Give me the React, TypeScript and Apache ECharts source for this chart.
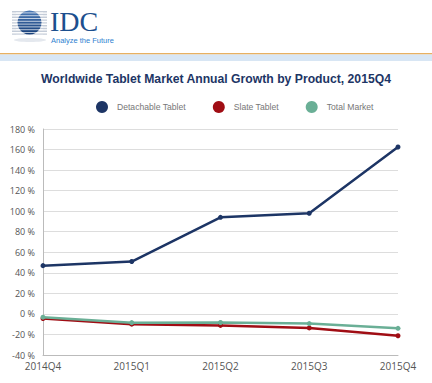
import React, { useEffect, useRef } from "react";
import * as echarts from "echarts";

const categories = ["2014Q4", "2015Q1", "2015Q2", "2015Q3", "2015Q4"];
const detachable = [47, 51, 94, 98, 162.5];
const slate = [-4.5, -10, -11.2, -13.6, -21.3];
const total = [-3.2, -8.5, -8.4, -9.4, -14];
const seriesNames = ["Detachable Tablet", "Slate Tablet", "Total Market"];
const seriesColors = ["#1d3565", "#a00d14", "#6aaf96"];

export default function App() {
  const ref = useRef<HTMLDivElement>(null);
  useEffect(() => {
    if (!ref.current) return;
    const chart = echarts.init(ref.current, undefined, { renderer: "svg" });
    const stripes: any[] = [];
    for (let i = 0; i < 9; i++) {
      stripes.push({
        type: "rect",
        shape: { x: 12, y: 11 + i * 2.8, width: 35, height: 1.4 },
        style: { fill: "#c4ccd8" },
      });
    }
    const globeLines: any[] = [];
    for (let i = 0; i < 9; i++) {
      globeLines.push({
        type: "rect",
        shape: { x: 16, y: 12.4 + i * 2.8, width: 27, height: 1.0 },
        style: { fill: "#ffffff", opacity: 0.7 },
      });
    }
    const data = [detachable, slate, total];
    chart.setOption({
      animation: false,
      backgroundColor: "#ffffff",
      title: {
        text: "Worldwide Tablet Market Annual Growth by Product, 2015Q4",
        left: "center",
        top: 68,
        textStyle: {
          fontSize: 12.2,
          fontWeight: "bold",
          color: "#1d3565",
          fontFamily: "Liberation Sans, Arial, sans-serif",
        },
      },
      legend: {
        top: 96,
        left: 91,
        icon: "circle",
        itemWidth: 12,
        itemHeight: 12,
        itemGap: 27,
        data: seriesNames,
        textStyle: {
          fontSize: 8.6,
          color: "#777777",
          fontFamily: "Liberation Sans, Arial, sans-serif",
          padding: [0, 0, 0, 4],
        },
      },
      graphic: [
        ...stripes,
        {
          type: "circle",
          shape: { cx: 29.5, cy: 22.5, r: 12 },
          style: {
            fill: new echarts.graphic.LinearGradient(0, 0, 0, 1, [
              { offset: 0, color: "#4a78b5" },
              { offset: 1, color: "#163e78" },
            ]),
          },
        },
        ...globeLines,
        {
          type: "ellipse",
          shape: { cx: 30, cy: 40, rx: 16, ry: 2 },
          style: { fill: "#e4e8ee" },
        },
        {
          type: "text",
          x: 50,
          y: 21.5,
          style: {
            text: "IDC",
            font: "28px 'Liberation Serif', 'DejaVu Serif', serif",
            fill: "#1c4f8e",
            lineHeight: 20,
            verticalAlign: "middle",
          },
        },
        {
          type: "text",
          x: 51,
          y: 40.5,
          style: {
            text: "Analyze the Future",
            font: "7.5px 'Liberation Sans', Arial, sans-serif",
            fill: "#2e7fd0",
            lineHeight: 8,
            verticalAlign: "middle",
          },
        },
        {
          type: "rect",
          shape: { x: 0, y: 53, width: 432, height: 1.5 },
          style: { fill: "#e8b060" },
        },
        {
          type: "rect",
          shape: { x: 0, y: 54.5, width: 432, height: 6.5 },
          style: { fill: "#d8e6f4" },
        },
      ],
      grid: { left: 43, right: 34, top: 129, bottom: 28, containLabel: false },
      xAxis: {
        type: "category",
        data: categories,
        boundaryGap: false,
        axisLine: { show: true, onZero: false, lineStyle: { color: "#bbbbbb", width: 1 } },
        axisTick: { show: false },
        axisLabel: {
          color: "#555555",
          fontSize: 10,
          lineHeight: 10,
          fontFamily: "Open Sans, sans-serif",
          margin: 6,
        },
        splitLine: { show: false },
      },
      yAxis: {
        type: "value",
        min: -40,
        max: 180,
        interval: 20,
        axisLine: { show: true, lineStyle: { color: "#bbbbbb", width: 1 } },
        axisTick: { show: false },
        axisLabel: {
          formatter: "{value} %",
          color: "#555555",
          fontSize: 9,
          lineHeight: 9,
          fontFamily: "Open Sans, sans-serif",
          margin: 8,
        },
        splitLine: { show: true, lineStyle: { color: "#dddddd", width: 1 } },
      },
      series: seriesNames.map((name, i) => ({
        name,
        type: "line",
        data: data[i],
        symbol: "circle",
        symbolSize: 5,
        lineStyle: { width: 2.5, color: seriesColors[i] },
        itemStyle: { color: seriesColors[i] },
        z: i === 1 ? 2 : 3,
      })),
    });
    return () => chart.dispose();
  }, []);
  return (
    <div
      ref={ref}
      style={{ position: "absolute", left: 0, top: 0, width: 432, height: 383 }}
    />
  );
}
